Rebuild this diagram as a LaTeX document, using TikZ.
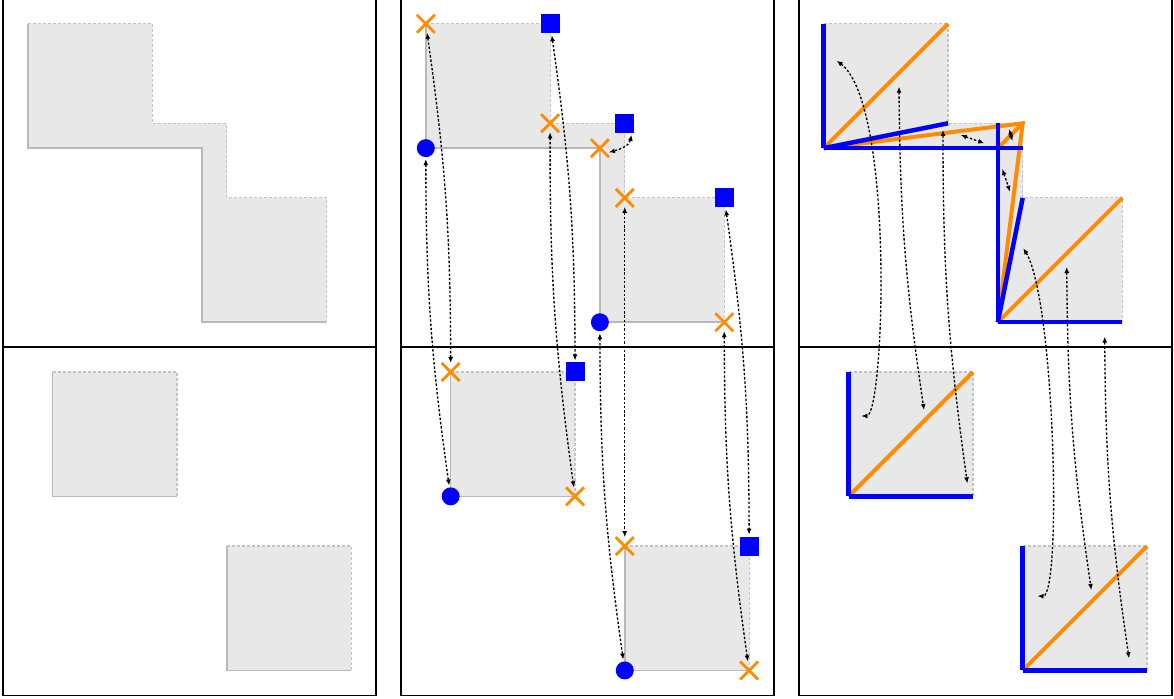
\documentclass[tikz,border=0pt]{standalone}
\usetikzlibrary{arrows.meta,shapes.misc,calc}
\definecolor{cellgray}{RGB}{232,232,232}
\definecolor{edgegray}{RGB}{185,185,185}
\definecolor{dashgray}{RGB}{195,195,195}
\definecolor{morange}{RGB}{255,140,0}
\definecolor{mblue}{RGB}{0,0,255}
\tikzset{
 panelframe/.style={draw=black, line width=1.3pt},
 cellfill/.style={fill=cellgray},
 solidedge/.style={draw=edgegray, line width=1.5pt},
 dashededge/.style={draw=dashgray, line width=1.2pt, dash pattern=on 3pt off 2pt},
 xmark/.style={cross out, draw=morange, line width=2.8pt, minimum size=12pt, inner sep=0pt, outer sep=3pt},
 sqmark/.style={rectangle, fill=mblue, minimum size=19pt, inner sep=0pt, outer sep=2pt},
 cmark/.style={circle, fill=mblue, minimum size=18pt, inner sep=0pt, outer sep=2pt},
 bluefat/.style={draw=mblue, line width=4.5pt},
 orangefat/.style={draw=morange, line width=4pt},
 link/.style={{Latex[length=6pt,width=5pt]}-{Latex[length=6pt,width=5pt]}, line width=1.35pt, dash pattern=on 2.4pt off 1.9pt},
}
\newcommand{\StairShape}{%
 \fill[cellfill] (1,-1) -- (6,-1) -- (6,-5) -- (9,-5) -- (9,-8) -- (13,-8) -- (13,-13) -- (8,-13) -- (8,-6) -- (1,-6) -- cycle;
 \draw[dashededge] (1,-1) -- (6,-1) -- (6,-5) -- (9,-5) -- (9,-8) -- (13,-8) -- (13,-13);
 \draw[solidedge] (13,-13) -- (8,-13) -- (8,-6) -- (1,-6) -- (1,-1);}
\newcommand{\CellSq}[2]{%
 \fill[cellfill] (#1,-#2) rectangle ++(5,-5);
 \draw[dashededge] (#1,-#2) -- ++(5,0) -- ++(0,-5);
 \draw[solidedge] (#1,-#2) ++(5,-5) -- ++(-5,0) -- ++(0,5);}
\begin{document}
\begin{tikzpicture}[x=24.87pt,y=24.87pt]
\useasboundingbox (-0.1206,-0.043) rectangle (47.084,-28.109);
% frames
\foreach \ox in {0,16,32} {
  \draw[panelframe] (\ox,0.2) rectangle (\ox+15,-14);
  \draw[panelframe] (\ox,-14) rectangle (\ox+15,-28);
}
% left panel
\StairShape
\CellSq{2}{15}
\CellSq{9}{22}
% middle panel
\begin{scope}[shift={(16,0)}]
 \StairShape
 \CellSq{2}{15}
 \CellSq{9}{22}
 \node[xmark] (xA) at (1,-1) {};
 \node[sqmark] (sA) at (6,-1) {};
 \node[cmark] (cA) at (1,-6) {};
 \node[xmark] (xB) at (6,-5) {};
 \node[sqmark] (sB) at (9,-5) {};
 \node[xmark] (xC) at (8,-6) {};
 \node[xmark] (xD) at (9,-8) {};
 \node[sqmark] (sD) at (13,-8) {};
 \node[cmark] (cD) at (8,-13) {};
 \node[xmark] (xE) at (13,-13) {};
 \node[xmark] (xa) at (2,-15) {};
 \node[sqmark] (sa) at (7,-15) {};
 \node[cmark] (ca) at (2,-20) {};
 \node[xmark] (xb) at (7,-20) {};
 \node[xmark] (xd) at (9,-22) {};
 \node[sqmark] (sd) at (14,-22) {};
 \node[cmark] (cd) at (9,-27) {};
 \node[xmark] (xe) at (14,-27) {};
\end{scope}
\draw[link] (xA) to[bend left=4] (xa);
\draw[link] (cA) to[bend right=4] (ca);
\draw[link] (sA) to[bend left=4] (sa);
\draw[link] (xB) to[bend right=4] (xb);
\draw[link] (sB.-60) to[out=-100,in=15] (xC.-25);
\draw[link] (xD) -- (xd);
\draw[link] (cD) to[bend right=4] (cd);
\draw[link] (sD) to[bend left=4] (sd);
\draw[link] (xE) to[bend right=4] (xe);
% right panel
\begin{scope}[shift={(32,0)}]
 \StairShape
 \CellSq{2}{15}
 \CellSq{9}{22}
 \draw[orangefat] (1,-6) -- (6,-1);
 \draw[orangefat, line join=miter] (1,-6) -- (9,-5) -- (8,-13);
 \draw[orangefat] (8,-6) -- (9,-5);
 \draw[orangefat] (8,-13) -- (13,-8);
 \draw[bluefat] (1,-1) -- (1,-6);
 \draw[bluefat] (1,-6) -- (9,-6);
 \draw[bluefat] (1,-6) -- (6,-5);
 \draw[bluefat] (8,-5) -- (8,-13);
 \draw[bluefat] (8,-13) -- (9,-8);
 \draw[bluefat] (8,-13) -- (13,-13);
 \draw[orangefat] (2,-20) -- (7,-15);
 \draw[bluefat] (2,-15) -- (2,-20);
 \draw[bluefat] (2,-20) -- (7,-20);
 \draw[orangefat] (9,-27) -- (14,-22);
 \draw[bluefat] (9,-22) -- (9,-27);
 \draw[bluefat] (9,-27) -- (14,-27);
\end{scope}
\coordinate (r1a) at (33.522,-2.484);
\coordinate (r1b) at (34.512,-16.770);
\coordinate (r2a) at (36.028,-3.529);
\coordinate (r2b) at (37.032,-16.529);
\coordinate (r3a) at (37.797,-5.270);
\coordinate (r3b) at (38.774,-19.476);
\coordinate (r4a) at (38.508,-5.471);
\coordinate (r4b) at (39.457,-5.805);
\coordinate (r5a) at (40.450,-5.230);
\coordinate (r5b) at (40.591,-5.713);
\coordinate (r6a) at (40.181,-6.838);
\coordinate (r6b) at (40.491,-7.751);
\coordinate (r7a) at (41.025,-10.027);
\coordinate (r7b) at (41.596,-24.008);
\coordinate (r8a) at (42.771,-10.779);
\coordinate (r8b) at (43.760,-23.766);
\coordinate (r9a) at (44.298,-13.581);
\coordinate (r9b) at (45.275,-26.513);
\draw[link] (r1a) .. controls ($(r1a)+(2.344,-1.781)$) and ($(r1b)+(0.925,0)$) .. (r1b);
\draw[link] (r2a) to[bend right=4] (r2b);
\draw[link] (r3a) to[bend right=4] (r3b);
\draw[link] (r4a) -- (r4b);
\draw[link] (r5a) -- (r5b);
\draw[link] (r6a) -- (r6b);
\draw[link] (r7a) .. controls ($(r7a)+(1.275,-2.079)$) and ($(r7b)+(0.985,-0.04)$) .. (r7b);
\draw[link] (r8a) to[bend right=4] (r8b);
\draw[link] (r9a) to[bend right=4] (r9b);
\end{tikzpicture}
\end{document}
